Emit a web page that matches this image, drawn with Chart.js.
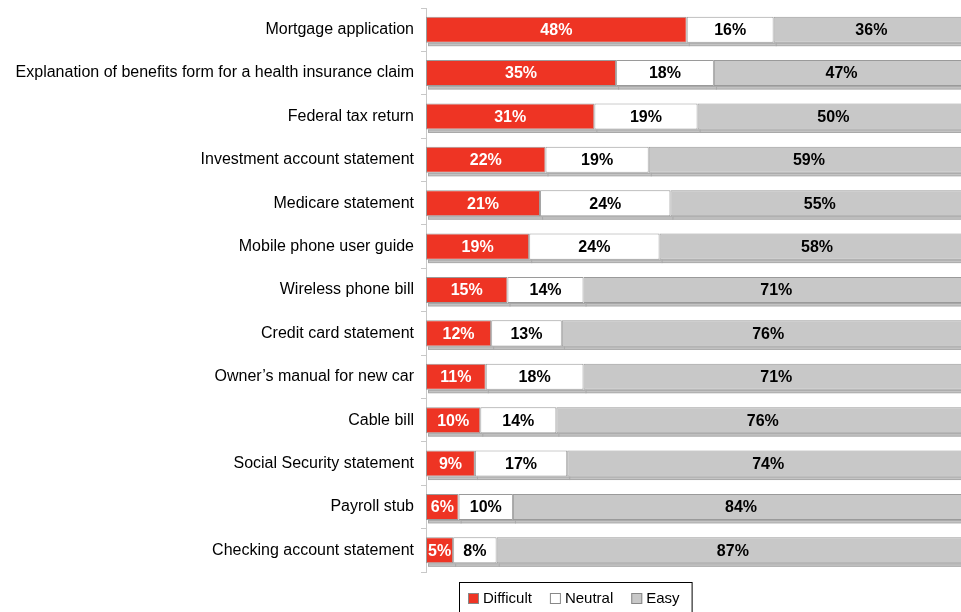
<!DOCTYPE html>
<html>
<head>
<meta charset="utf-8">
<script src="https://cdn.jsdelivr.net/npm/chart.js@4"></script>
<style>
  html, body { margin: 0; padding: 0; background: #fff; }
  #wrap { width: 961px; height: 612px; }
</style>
</head>
<body>
<div id="wrap"><canvas id="ease-chart"></canvas></div>
<script>
const categories = [
  "Mortgage application",
  "Explanation of benefits form for a health insurance claim",
  "Federal tax return",
  "Investment account statement",
  "Medicare statement",
  "Mobile phone user guide",
  "Wireless phone bill",
  "Credit card statement",
  "Owner\u2019s manual for new car",
  "Cable bill",
  "Social Security statement",
  "Payroll stub",
  "Checking account statement"
];
const difficult = [48, 35, 31, 22, 21, 19, 15, 12, 11, 10, 9, 6, 5];
const neutral = [16, 18, 19, 19, 24, 24, 14, 13, 18, 14, 17, 10, 8];
const easy = [36, 47, 50, 59, 55, 58, 71, 76, 71, 76, 74, 84, 87];
const seriesNames = ["Difficult", "Neutral", "Easy"];

const FONT = "'Liberation Sans', Arial, sans-serif";
const colors = ["#ee3424", "#ffffff", "#c8c8c8"];
const labelColors = ["#ffffff", "#000000", "#000000"];

// the right part of the easy bars runs past the edge in the original
const xMax = 98.5;

// grey base strip under each bar (the old 3d look)
const barBase = {
  id: "barBase",
  beforeDatasetsDraw(chart) {
    const ctx = chart.ctx;
    const area = chart.chartArea;
    ctx.save();
    ctx.beginPath();
    ctx.rect(area.left, area.top, area.right - area.left, area.bottom - area.top + 5);
    ctx.clip();
    chart.data.datasets.forEach((ds, i) => {
      chart.getDatasetMeta(i).data.forEach((bar) => {
        const y = bar.y + bar.height / 2;
        const x0 = Math.min(bar.base, bar.x);
        const w = Math.abs(bar.x - bar.base);
        ctx.fillStyle = "#c4c4c4";
        ctx.fillRect(x0 + 2, y, w, 3);
        ctx.strokeStyle = "#a8a8a8";
        ctx.lineWidth = 1;
        ctx.strokeRect(x0 + 2.5, y + 0.5, w, 2.5);
      });
    });
    ctx.restore();
  }
};

const valueLabels = {
  id: "valueLabels",
  afterDatasetsDraw(chart) {
    const ctx = chart.ctx;
    ctx.save();
    ctx.font = "bold 16px " + FONT;
    ctx.textAlign = "center";
    ctx.textBaseline = "middle";
    chart.data.datasets.forEach((ds, i) => {
      chart.getDatasetMeta(i).data.forEach((bar, j) => {
        const c = bar.getCenterPoint();
        ctx.fillStyle = labelColors[i];
        ctx.fillText(ds.data[j] + "%", c.x, c.y + 1);
      });
    });
    ctx.restore();
  }
};

const boxLegend = {
  id: "boxLegend",
  afterDraw(chart) {
    const ctx = chart.ctx;
    const area = chart.chartArea;
    ctx.save();
    ctx.font = "15px " + FONT;
    ctx.textBaseline = "middle";
    const left = 459;
    const top = area.bottom + 10;
    let x = left + 9;
    const cy = top + 16.5;
    seriesNames.forEach((name, i) => {
      ctx.fillStyle = colors[i];
      ctx.fillRect(x, cy - 5.5, 11, 11);
      ctx.strokeStyle = "#888";
      ctx.lineWidth = 1;
      ctx.strokeRect(x + 0.5, cy - 5, 10, 10);
      ctx.fillStyle = "#000";
      ctx.fillText(name, x + 15, cy);
      x += 15 + ctx.measureText(name).width + 18;
    });
    ctx.strokeStyle = "#000";
    ctx.strokeRect(left + 0.5, top + 0.5, x - left - 6, 40);
    ctx.restore();
  }
};

const ctx = document.querySelector("#ease-chart").getContext("2d");

new Chart(ctx, {
  type: "bar",
  data: {
    labels: categories,
    datasets: [difficult, neutral, easy].map((values, i) => ({
      label: seriesNames[i],
      data: values,
      backgroundColor: colors[i],
      borderColor: "#9a9a9a",
      borderWidth: 1,
      borderSkipped: false,
      categoryPercentage: 1,
      barPercentage: 0.6
    }))
  },
  options: {
    indexAxis: "y",
    responsive: true,
    maintainAspectRatio: false,
    animation: false,
    layout: {
      padding: { left: 0, right: 0, top: 8, bottom: 40 }
    },
    plugins: {
      legend: { display: false },
      tooltip: { enabled: false }
    },
    scales: {
      x: {
        stacked: true,
        display: false,
        min: 0,
        max: xMax
      },
      y: {
        stacked: true,
        afterFit: (scale) => {
          scale.width = 426;
          scale.paddingTop = 0;
          scale.paddingBottom = 0;
        },
        grid: {
          drawOnChartArea: false,
          tickLength: 5,
          color: "#c8c8c8",
          offset: true
        },
        border: {
          color: "#c8c8c8"
        },
        ticks: {
          color: "#000",
          padding: 7,
          font: {
            family: FONT,
            size: 16
          }
        }
      }
    }
  },
  plugins: [barBase, valueLabels, boxLegend]
});
</script>
</body>
</html>
